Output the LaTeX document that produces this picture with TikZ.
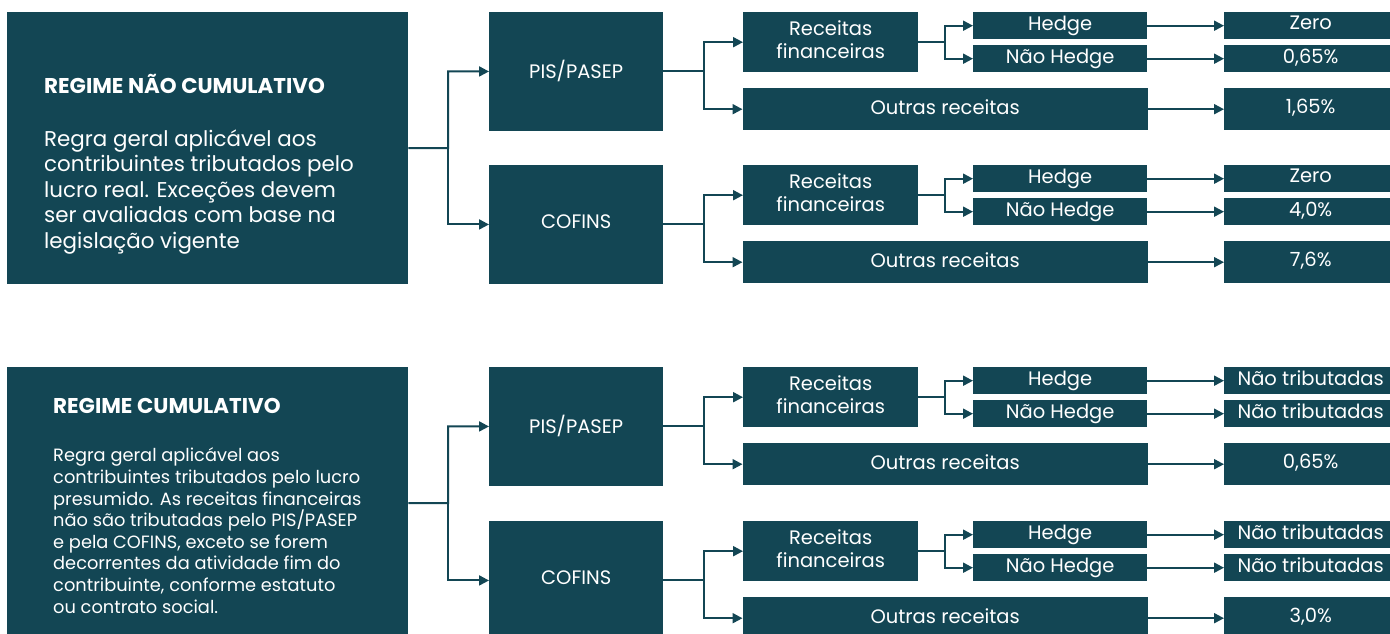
\documentclass[tikz,border=0pt]{standalone}
\usepackage{fontspec}
\setmainfont{Poppins}
\usetikzlibrary{arrows.meta}
\definecolor{teal1}{RGB}{19,70,84}
\tikzset{
  box/.style={fill=teal1, text=white, inner sep=0pt, anchor=north west, align=center, text depth=5pt, font=\fontsize{19.5}{23.5}\selectfont},
  con/.style={draw=teal1, line width=2pt},
  arr/.style={con, -{Triangle[length=10pt,width=10pt]}},
  ttl/.style={text=white, inner sep=0pt, anchor=base west, font=\fontsize{21.4}{26}\selectfont\bfseries},
  bodyA/.style={text=white, inner sep=0pt, anchor=base west, align=left, font=\fontsize{21.4}{25.5}\selectfont},
  bodyB/.style={text=white, inner sep=0pt, anchor=base west, align=left, font=\fontsize{17.8}{21.6}\selectfont}
}
\newcommand{\taxgroup}[6]{%
  \node[box, minimum width=174pt, minimum height=118.5pt] (#1t) at (489,#2) {#3};
  \node[box, minimum width=175pt, minimum height=60pt] (#1rf) at (743,#2) {Receitas\\financeiras};
  \node[box, minimum width=174pt, minimum height=27pt] (#1h) at (973,#2) {Hedge};
  \node[box, minimum width=174pt, minimum height=27pt] (#1nh) at (973,{#2+33}) {Não Hedge};
  \node[box, minimum width=405pt, minimum height=42pt] (#1ou) at (742.5,{#2+76}) {Outras receitas};
  \node[box, minimum width=173pt, minimum height=27pt] (#1ra) at (1224,#2) {#4};
  \node[box, minimum width=173pt, minimum height=27pt] (#1rb) at (1224,{#2+33}) {#5};
  \node[box, minimum width=173pt, minimum height=42pt] (#1rc) at (1224,{#2+76}) {#6};
  \draw[arr] (#1t.east) -- ++(41,0) |- (#1rf.west);
  \draw[arr] (#1t.east) -- ++(41,0) |- (#1ou.west);
  \draw[arr] (#1rf.east) -- ++(27,0) |- (#1h.west);
  \draw[arr] (#1rf.east) -- ++(27,0) |- (#1nh.west);
  \draw[arr] (#1h.east) -- (#1ra.west);
  \draw[arr] (#1nh.east) -- (#1rb.west);
  \draw[arr] (#1ou.east) -- (#1rc.west);
}
\begin{document}
\begin{tikzpicture}[x=1pt,y=-1pt]
\clip (0,0) rectangle (1390,634);
\fill[white] (0,0) rectangle (1390,634);
% top regime
\node[box, minimum width=401pt, minimum height=272pt] (big1) at (7,12) {};
\node[ttl] (tt1) at (44,94) {REGIME NÃO CUMULATIVO};
\node[bodyA] (tb1) at (44,248) {Regra geral aplicável aos\\contribuintes tributados pelo\\lucro real. Exceções devem\\ser avaliadas com base na\\legislação vigente};
\taxgroup{A}{12}{PIS/PASEP}{Zero}{0,65\%}{1,65\%}
\taxgroup{B}{165}{COFINS}{Zero}{4,0\%}{7,6\%}
\coordinate (j1) at (448,148);
\draw[arr] (big1.east) -- (j1) |- (At.west);
\draw[arr] (j1) |- (Bt.west);
% bottom regime
\node[box, minimum width=401pt, minimum height=272pt] (big2) at (7,367) {};
\node[ttl] (tt2) at (53,413) {REGIME CUMULATIVO};
\node[bodyB] (tb2) at (53,613) {Regra geral aplicável aos\\contribuintes tributados pelo lucro\\presumido. As receitas financeiras\\não são tributadas pelo PIS/PASEP\\e pela COFINS, exceto se forem\\decorrentes da atividade fim do\\contribuinte, conforme estatuto\\ou contrato social.};
\taxgroup{C}{367}{PIS/PASEP}{Não tributadas}{Não tributadas}{0,65\%}
\taxgroup{D}{521}{COFINS}{Não tributadas}{Não tributadas}{3,0\%}
\coordinate (j2) at (448,503);
\draw[arr] (big2.east) -- (j2) |- (Ct.west);
\draw[arr] (j2) |- (Dt.west);
\end{tikzpicture}
\end{document}
